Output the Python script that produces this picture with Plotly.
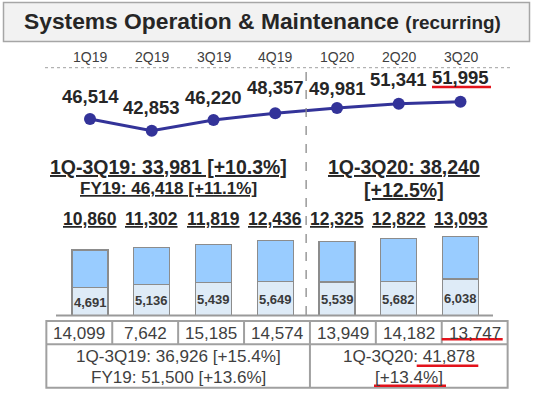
import plotly.graph_objects as go

# ---------------- data ----------------
quarters = ["1Q19", "2Q19", "3Q19", "4Q19", "1Q20", "2Q20", "3Q20"]
recurring_sales = [46514, 42853, 46220, 48357, 49981, 51341, 51995]
op_totals = [10860, 11302, 11819, 12436, 12325, 12822, 13093]
op_lower = [4691, 5136, 5439, 5649, 5539, 5682, 6038]
orders = [14099, 7642, 15185, 14574, 13949, 14182, 13747]

title_main = "Systems Operation &amp; Maintenance"
title_sub = "(recurring)"
mid_left = ["1Q-3Q19: 33,981 [+10.3%]", "FY19: 46,418 [+11.1%]"]
mid_right = ["1Q-3Q20: 38,240", "[+12.5%]"]
tbl_left = ["1Q-3Q19: 36,926 [+15.4%]", "FY19: 51,500 [+13.6%]"]
tbl_right = ["1Q-3Q20: 41,878", "[+13.4%]"]

op_upper = [t - l for t, l in zip(op_totals, op_lower)]

W, H = 533, 393
FONT = "Liberation Sans, Arial, sans-serif"
DARK = "#262626"
GREY_TXT = "#3f3f3f"
RED = "#e3121b"


def px(x):
    return x / W


def py(y):
    return 1 - y / H


fig = go.Figure()

# line chart (recurring sales)
fig.add_trace(go.Scatter(
    x=quarters, y=recurring_sales, mode="lines+markers",
    line=dict(color="#333399", width=3),
    marker=dict(color="#333399", size=12),
    xaxis="x", yaxis="y", hoverinfo="skip", showlegend=False))

# stacked bars
fig.add_trace(go.Bar(
    x=quarters, y=op_lower, marker=dict(color="#deebf7", line=dict(color="#8c8c8c", width=1.3)),
    width=0.585, xaxis="x", yaxis="y2", hoverinfo="skip", showlegend=False))
fig.add_trace(go.Bar(
    x=quarters, y=op_upper, marker=dict(color="#99ccff", line=dict(color="#8c8c8c", width=1.3)),
    width=0.585, xaxis="x", yaxis="y2", hoverinfo="skip", showlegend=False))

ann = []
shapes = []


def add_text(text, x, y, size, color=DARK, xref="paper", yref="paper", yshift=0):
    ann.append(dict(xref=xref, yref=yref, x=x, y=y, yshift=yshift, text=text, showarrow=False,
                    font=dict(family=FONT, size=size, color=color),
                    xanchor="center", yanchor="middle"))


# title box
shapes.append(dict(type="rect", xref="paper", yref="paper", x0=px(3.5), x1=px(529.5),
                   y0=py(41.5), y1=py(2.5), fillcolor="#f2f2f2",
                   line=dict(color="#a6a6a6", width=1.5), layer="below"))
add_text(f"<b>{title_main}</b> <b><span style='font-size:18.9px'>{title_sub}</span></b>",
         px(262), py(21.5), 22.8)

# quarter labels
for q in quarters:
    add_text(q, q, py(57.3), 14, color="#404040", xref="x")

# dotted separator
shapes.append(dict(type="line", xref="paper", yref="paper", x0=px(45), x1=px(510),
                   y0=py(67.7), y1=py(67.7), line=dict(color="#a0a0a0", width=1, dash="dot")))
# dashed vertical divider between FY19 and FY20
shapes.append(dict(type="line", xref="x", yref="paper", x0=3.5, x1=3.5,
                   y0=py(315), y1=py(69), line=dict(color="#8a8a8a", width=1.3, dash="dash")))

# line labels
shifts = [23, 23, 23, 26, 20, 24, 24]
for q, v, s in zip(quarters, recurring_sales, shifts):
    add_text(f"<b>{v:,}</b>", q, v, 18.5, xref="x", yref="y", yshift=s)

# middle summaries
add_text(f"<b><u>{mid_left[0]}</u></b>", px(168.5), py(166.7), 19.5)
add_text(f"<b><u>{mid_left[1]}</u></b>", px(168.5), py(188.3), 17.1)
add_text(f"<b><u>{mid_right[0]}</u></b>", px(404), py(166.7), 19.5)
add_text(f"<b><u>{mid_right[1]}</u></b>", px(404), py(190), 19.5)

# bar totals
for q, t in zip(quarters, op_totals):
    add_text(f"<b><u>{t:,}</u></b>", q, py(219.3), 17.5, xref="x")
# lower segment labels
for q, l in zip(quarters, op_lower):
    add_text(f"<b>{l:,}</b>", q, l / 2, 13, color="#3a3a3a", xref="x", yref="y2", yshift=-1)

# bar baseline
shapes.append(dict(type="line", xref="paper", yref="paper", x0=px(56), x1=px(493),
                   y0=py(315.5), y1=py(315.5), line=dict(color="#9a9a9a", width=2)))

# table (orders)
TB_TOP, TB_MID, TB_BOT = 321, 344.3, 387.7
tline = dict(color="#a0a0a0", width=2)
shapes.append(dict(type="rect", xref="x2", yref="paper", x0=-0.5, x1=6.5,
                   y0=py(TB_BOT), y1=py(TB_TOP), line=tline))
shapes.append(dict(type="line", xref="x2", yref="paper", x0=-0.5, x1=6.5,
                   y0=py(TB_MID), y1=py(TB_MID), line=tline))
for k in range(1, 7):
    shapes.append(dict(type="line", xref="x2", yref="paper", x0=k - 0.5, x1=k - 0.5,
                       y0=py(TB_MID), y1=py(TB_TOP), line=tline))
shapes.append(dict(type="line", xref="x2", yref="paper", x0=3.5, x1=3.5,
                   y0=py(TB_BOT), y1=py(TB_MID), line=tline))

for i, o in enumerate(orders):
    add_text(f"{o:,}", i, py(333.3), 17.1, color=GREY_TXT, xref="x2")
add_text(tbl_left[0], 1.5, py(356.7), 17.1, color=GREY_TXT, xref="x2")
add_text(tbl_left[1], 1.5, py(377.3), 17.1, color=GREY_TXT, xref="x2")
add_text(tbl_right[0], 5, py(356.7), 17.1, color=GREY_TXT, xref="x2")
add_text(tbl_right[1], 5, py(377.3), 17.1, color=GREY_TXT, xref="x2")

# red highlight underlines
for (x0, x1, y) in [(432, 491, 87), (441.7, 502.7, 339.3), (416.7, 478.3, 365.7), (374, 446, 385.7)]:
    shapes.append(dict(type="line", xref="paper", yref="paper", x0=px(x0), x1=px(x1),
                       y0=py(y), y1=py(y), line=dict(color=RED, width=2.6)))

fig.update_layout(
    width=W, height=H, margin=dict(l=0, r=0, t=0, b=0),
    paper_bgcolor="white", plot_bgcolor="rgba(0,0,0,0)",
    barmode="stack", showlegend=False,
    xaxis=dict(domain=[0, 1], range=[-1.4575, 7.174], visible=False, fixedrange=True,
               type="category", categoryarray=quarters, anchor="y"),
    xaxis2=dict(domain=[0, 1], range=[-1.2033, 6.885], visible=False, fixedrange=True,
                overlaying="x", anchor="y"),
    yaxis=dict(domain=[py(145), py(60)], range=[38345, 65142], visible=False, fixedrange=True,
               anchor="x"),
    yaxis2=dict(domain=[py(315.3), py(230)], range=[0, 14217], visible=False, fixedrange=True,
                anchor="x"),
    annotations=ann, shapes=shapes,
)

fig.write_html("out.html", config={"displayModeBar": False},
               post_script="document.body.style.margin='0';document.body.style.overflow='hidden';")
